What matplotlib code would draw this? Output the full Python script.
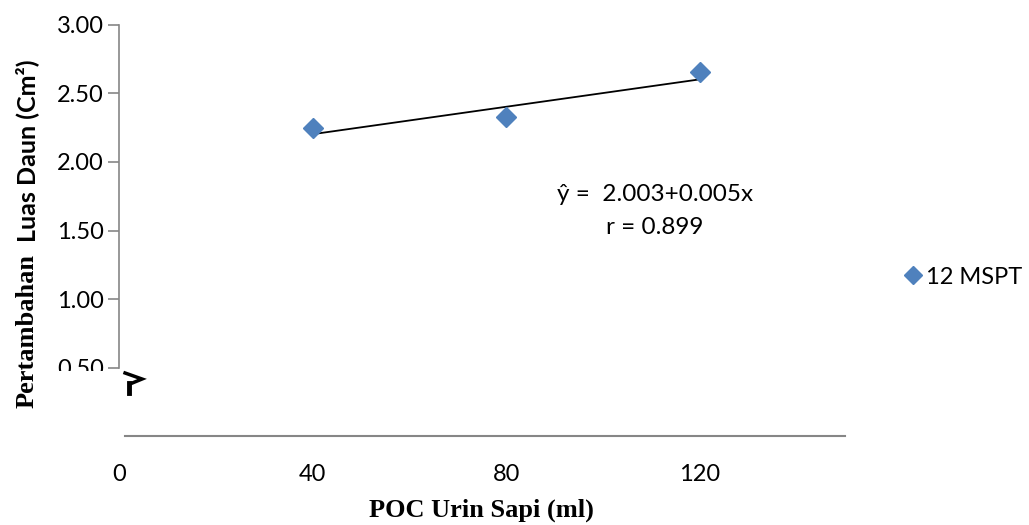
import matplotlib.pyplot as plt
import matplotlib.patches as mpatches
import numpy as np

# data
poc_ml = [40, 80, 120]
luas_daun = [2.25, 2.33, 2.66]
intercept = 2.003
slope = 0.005
r_value = 0.899
y_ticks = [0.5, 1.0, 1.5, 2.0, 2.5, 3.0]
x_ticks = [0, 40, 80, 120]

sans = ['Lato', 'DejaVu Sans']
serif = ['Liberation Serif', 'DejaVu Serif']

fig = plt.figure(figsize=(10.29, 5.25), dpi=100)
ax = fig.add_axes([0.1157, 0.1695, 0.7052, 0.7829])

# scatter points and trend line
ax.plot(poc_ml, luas_daun, linestyle='none', marker='D', markersize=10,
        color='#4F81BD', label='12 MSPT', zorder=3)
xs = np.array([poc_ml[0], poc_ml[-1]])
ax.plot(xs, intercept + slope * xs, color='black', linewidth=1.3, zorder=2)

ax.set_xlim(0, 150)
ax.set_ylim(0, 3.0)

for s in ['top', 'right']:
    ax.spines[s].set_visible(False)
ax.spines['left'].set_bounds(0.5, 3.0)
ax.spines['bottom'].set_bounds(1.2, 150)
ax.spines['left'].set_color('#868686')
ax.spines['bottom'].set_color('#868686')
ax.spines['left'].set_linewidth(1.2)
ax.spines['bottom'].set_linewidth(1.5)

ax.set_yticks(y_ticks)
ax.set_yticklabels(['%.2f' % v for v in y_ticks], family=sans, fontsize=17)
ax.set_xticks(x_ticks)
ax.set_xticklabels([str(v) for v in x_ticks], family=sans, fontsize=17)
ax.tick_params(axis='y', length=8, width=1.2, color='#868686', pad=3)
ax.tick_params(axis='x', length=0, pad=20)

# axis labels
ax.set_xlabel('POC Urin Sapi (ml)', family=serif, fontweight='bold',
              fontsize=19, labelpad=10)
fig.text(0.026, 0.37, 'Pertambahan', rotation=90, family=serif,
         fontweight='bold', fontsize=19, ha='center', va='center')
fig.text(0.026, 0.713, 'Luas Daun (Cm²)', rotation=90, family=sans,
         fontweight='bold', fontsize=18, ha='center', va='center')

# regression annotation
ax.text(110.8, 1.76, 'ŷ =  %.3f+%.3fx' % (intercept, slope), family=sans,
        fontsize=17.5, ha='center', va='center')
ax.text(110.8, 1.52, 'r = %.3f' % r_value, family=sans, fontsize=17.5,
        ha='center', va='center')

# axis break mark
ax.plot([1.24, 4.75, 2.27], [0.46, 0.416, 0.38], color='black', linewidth=2.5,
        clip_on=False, solid_joinstyle='miter')
ax.plot([2.1, 2.1], [0.385, 0.314], color='black', linewidth=3.5, clip_on=False)

# white mask cutting the lower part of the 0.50 label
fig.patches.append(mpatches.Rectangle((0.04, 0.26), 0.072, 0.033,
                                      transform=fig.transFigure,
                                      facecolor='white', edgecolor='none',
                                      zorder=5))

fig.legend(loc='center left', bbox_to_anchor=(0.86, 0.472), frameon=False,
           prop={'family': sans, 'size': 17}, handletextpad=0.05,
           handlelength=1.0, markerscale=0.9, borderpad=0.2)

fig.savefig('out.png', dpi=100)
